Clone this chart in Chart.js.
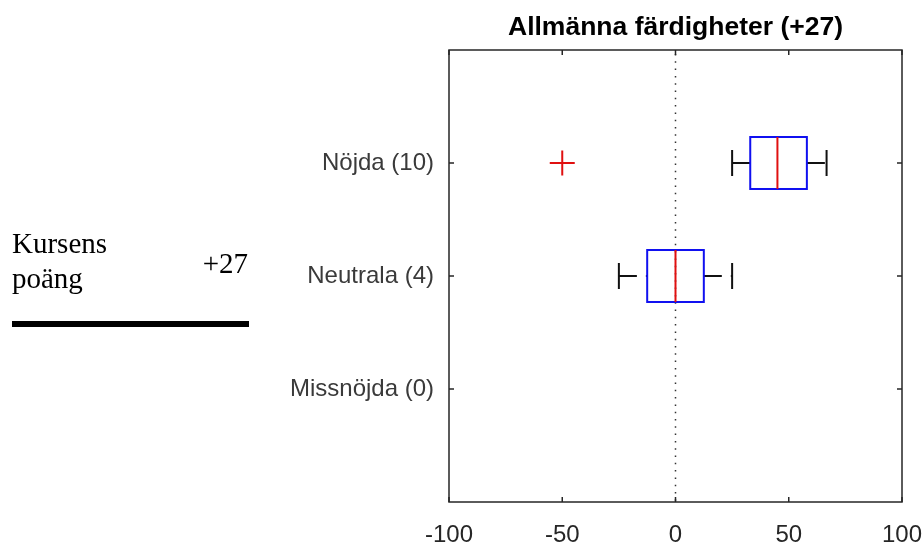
<!DOCTYPE html>
<html><head><meta charset="utf-8">
<script src="https://cdn.jsdelivr.net/npm/chart.js@4"></script>
<style>
html,body{margin:0;padding:0;background:#fff;}
#wrap{position:relative;width:922px;height:542px;overflow:hidden;background:#fff;}
#c{position:absolute;left:0;top:0;}
.serif{position:absolute;font-family:"Liberation Serif","Times New Roman",serif;font-size:29px;color:#000;line-height:29px;white-space:nowrap;}
#rule{position:absolute;left:12px;top:321px;width:237px;height:6px;background:#000;}
</style></head><body>
<div id="wrap">
<canvas id="c" width="922" height="542"></canvas>
<div class="serif" style="left:12px;top:229px;">Kursens</div>
<div class="serif" style="left:12px;top:264px;">poäng</div>
<div class="serif" style="left:0;top:249px;width:248px;text-align:right;">+27</div>
<div id="rule"></div>
</div>
<script>
// ---- data ----
const categories = ['Nöjda (10)', 'Neutrala (4)', 'Missnöjda (0)'];
const whiskerLow  = [25,   -25,   null];
const q1          = [33,   -12.5, null];
const median      = [45,   0,     null];
const q3          = [58,   12.5,  null];
const whiskerHigh = [66.7, 25,    null];
const outlierX    = [-50];
const outlierCat  = [0];
const xTicks = [-100, -50, 0, 50, 100];
const titleText = 'Allmänna färdigheter (+27)';

// ---- style constants ----
const BOX_HALF = 0.23, CAP_HALF = 0.115;
const FONT = '"Liberation Sans", Arial, Helvetica, sans-serif';

const boxPlugin = {
  id: 'boxplot',
  beforeDatasetsDraw(chart) {
    const {ctx, chartArea: a, scales: {x, y}} = chart;
    ctx.save();
    const x0 = x.getPixelForValue(0);
    ctx.strokeStyle = '#333';
    ctx.lineWidth = 1.5;
    ctx.setLineDash([1.5, 5.8]);
    ctx.beginPath(); ctx.moveTo(x0, a.top + 4); ctx.lineTo(x0, a.bottom); ctx.stroke();
    ctx.setLineDash([]);
    categories.forEach((c, i) => {
      if (q1[i] == null) return;
      const yc = y.getPixelForValue(i + 1);
      const bh = Math.abs(y.getPixelForValue(i + 1 + BOX_HALF) - yc);
      const ch = Math.abs(y.getPixelForValue(i + 1 + CAP_HALF) - yc);
      const pwl = x.getPixelForValue(whiskerLow[i]);
      const pq1 = x.getPixelForValue(q1[i]);
      const pm = x.getPixelForValue(median[i]);
      const pq3 = x.getPixelForValue(q3[i]);
      const pwh = x.getPixelForValue(whiskerHigh[i]);
      ctx.strokeStyle = '#111';
      ctx.lineWidth = 2;
      ctx.setLineDash([18, 9]);
      ctx.beginPath(); ctx.moveTo(pwl, yc); ctx.lineTo(pq1, yc); ctx.stroke();
      ctx.beginPath(); ctx.moveTo(pq3, yc); ctx.lineTo(pwh, yc); ctx.stroke();
      ctx.setLineDash([]);
      ctx.beginPath();
      ctx.moveTo(pwl, yc - ch); ctx.lineTo(pwl, yc + ch);
      ctx.moveTo(pwh, yc - ch); ctx.lineTo(pwh, yc + ch);
      ctx.stroke();
      ctx.strokeStyle = '#1010f0';
      ctx.lineWidth = 2;
      ctx.strokeRect(pq1, yc - bh, pq3 - pq1, 2 * bh);
      ctx.strokeStyle = '#e01010';
      ctx.beginPath(); ctx.moveTo(pm, yc - bh); ctx.lineTo(pm, yc + bh); ctx.stroke();
    });
    ctx.restore();
  },
  afterDraw(chart) {
    const {ctx, chartArea: a, scales: {x, y}} = chart;
    ctx.save();
    ctx.strokeStyle = '#262626';
    ctx.lineWidth = 1.5;
    ctx.strokeRect(a.left, a.top, a.right - a.left, a.bottom - a.top);
    const tl = 5;
    ctx.beginPath();
    xTicks.forEach(v => {
      const px = x.getPixelForValue(v);
      ctx.moveTo(px, a.bottom); ctx.lineTo(px, a.bottom - tl);
      ctx.moveTo(px, a.top); ctx.lineTo(px, a.top + tl);
    });
    categories.forEach((c, i) => {
      const py = y.getPixelForValue(i + 1);
      ctx.moveTo(a.left, py); ctx.lineTo(a.left + tl, py);
      ctx.moveTo(a.right, py); ctx.lineTo(a.right - tl, py);
    });
    ctx.stroke();
    ctx.restore();
  }
};

new Chart(document.getElementById('c'), {
  type: 'scatter',
  data: {
    datasets: [{
      data: outlierX.map((v, k) => ({x: v, y: outlierCat[k] + 1})),
      pointStyle: 'cross',
      pointRadius: 12.5,
      pointBorderWidth: 2,
      borderWidth: 2,
      borderColor: '#e01010',
      backgroundColor: '#e01010'
    }]
  },
  options: {
    responsive: false,
    animation: false,
    events: [],
    layout: {padding: {left: 0, right: 20, top: 0, bottom: 0}},
    plugins: {
      legend: {display: false},
      tooltip: {enabled: false},
      title: {
        display: true,
        text: titleText,
        fullSize: false,
        color: '#000',
        font: {family: FONT, size: 26.5, weight: 'bold'},
        padding: {top: 12, bottom: 6.2}
      }
    },
    scales: {
      x: {
        type: 'linear', position: 'bottom', min: -100, max: 100,
        afterBuildTicks: s => { s.ticks = xTicks.map(v => ({value: v})); },
        afterFit: s => { s.height = 40; s.paddingLeft = 0; s.paddingRight = 0; },
        grid: {display: false},
        border: {display: false},
        ticks: {
          color: '#262626', padding: 11, maxRotation: 0, autoSkip: false,
          font: {family: FONT, size: 24}
        }
      },
      y: {
        type: 'linear', position: 'left', min: 0, max: 4, reverse: true,
        afterBuildTicks: s => { s.ticks = categories.map((c, i) => ({value: i + 1})); },
        afterFit: s => { s.width = 449; s.paddingTop = 0; s.paddingBottom = 0; },
        grid: {display: false},
        border: {display: false},
        ticks: {
          color: '#3a3a3a', padding: 7, autoSkip: false,
          font: {family: FONT, size: 24},
          callback: v => categories[v - 1] ?? ''
        }
      }
    }
  },
  plugins: [boxPlugin]
});
</script>
</body></html>
